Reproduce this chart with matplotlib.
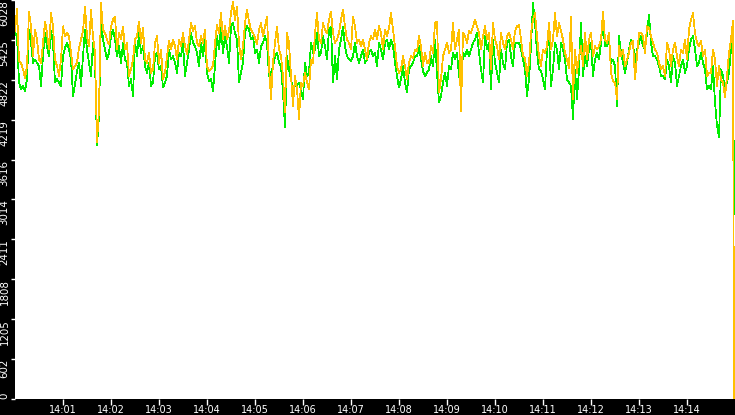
import matplotlib
matplotlib.use("Agg")
import matplotlib.pyplot as plt
import numpy as np

# sample step (seconds) from 14:00:00
step_s = 2.5

orange_1 = [5555,5890,5105,5080,4980,4855,5030,5855,5630,5180,5580,5430,5130,5080,5380,5705,5530,5280,5830,5630,
            5130,5030,4880,5130,5630,5480,5530,5480,5230,4980,5030,5080,5305,5430,5555,5930,5480,5330,5880,5480,
            5230,3880,4380,5980,5580,5530,5430,5355,5630,5730,5780,5280,5530,5430,5630,5280,5380,4880,4980,5130]
green_1 = [5530,5480,4780,4680,4730,4655,4830,5580,5380,5080,5130,5080,5030,4730,5180,5530,5330,5180,5555,5380,
           4780,4830,4780,4730,5180,5305,5380,5280,5130,4580,4755,4955,5080,4730,5180,5580,5280,5080,4880,5380,
           5105,3830,4280,5730,5430,5280,5130,5230,5480,5580,5430,5180,5330,5080,5380,5130,5080,4730,4830,4580]

orange_2 = [5430,5480,5705,5380,5605,5130,5080,5230,4930,4980,5380,5480,5080,5280,4830,4930,5180,5405,5280,5430,
            5330,5130,5430,5330,5530,5330,5205,5430,5680,5555,5630,5380,5330,5480,5380,5580,5030,4955,4980,5030,
            5380,5655,5530,5830,5430,5630,5430,5555,5830,6005,5730,5930,5380,5130,5330,5680,5880,5705,5580,5530]
green_2 = [5380,5180,5530,5230,5330,5030,4930,5080,4730,4780,5180,5230,4980,5030,4705,4780,4880,5280,5130,5180,
           5080,4930,5230,5180,5380,4880,5080,5280,5530,5380,5330,5230,5030,5380,5180,5430,4930,4805,4830,4655,
           5030,5480,5280,5630,5230,5480,5330,5080,5630,5680,5530,5430,4780,4930,5080,5530,5630,5580,5430,5480]

orange_3 = [5455,5355,5580,5680,5480,5630,5780,5030,4530,5080,5380,5630,5280,5180,4880,4330,5530,5380,4880,4430,
            4880,4680,4230,4780,4730,4930,4780,4680,5130,5080,5530,5830,5430,5380,5680,5580,5530,5730,5855,5530,
            5380,5430,5530,5730,5880,5630,5430,5380,5280,5780,5630,5380,5430,5330,5430,5280,5130,5380,5480,5430]
green_3 = [5230,5280,5080,5330,5380,5480,5380,4880,4930,5030,5180,5230,5080,5030,4630,4105,5180,4980,4830,4680,
           4730,4730,4780,4680,4530,5080,4880,4930,5380,5230,5280,5530,5180,5230,5480,5330,5130,5580,5630,4780,
           5180,4830,5280,5430,5630,5330,5180,5130,5105,5180,5380,5180,5080,5180,5280,5080,5130,5230,5280,5180]

orange_4 = [5580,5430,5630,5530,5280,5580,5480,5605,5830,5580,5330,5030,4930,4980,5180,5030,4830,5080,5180,5155,
            5280,5255,5480,5330,5030,5230,5080,5080,5330,5230,5680,5705,4630,4830,5180,5280,5380,5230,5280,5680,
            5280,5430,5580,4355,5530,5480,5380,5555,5530,5630,5730,5630,5530,5280,5480,5630,5430,5530,4980,5680]
green_4 = [5230,5030,5380,5280,5130,5380,5430,5280,5430,5330,5080,4880,4705,4830,5030,4780,4630,4980,5030,5080,
           5180,5180,5330,5130,4955,4880,4930,4980,5180,5030,5430,4930,4480,4580,4780,4930,4730,5030,4980,5230,
           5130,5230,4880,4730,5230,5180,5280,5180,5280,5380,5430,5530,5230,4980,4780,5480,5280,5380,4680,5430]

orange_5 = [5430,5330,5130,5530,5380,5280,5480,5530,5430,5280,5555,5630,5655,5430,5180,5155,4880,5080,5530,5730,
            5830,5480,5180,5030,5280,5230,5330,5680,5280,5430,5830,5480,5680,5555,5430,5230,5130,5005,5780,4530,
            5280,4930,5180,5330,5030,5530,5130,5430,5530,5180,5330,5280,5330,5430,5855,5430,5380,5530,4930,4805]
green_5 = [5080,4930,4780,5280,5080,4980,5380,5430,5180,5030,5380,5380,5380,5280,5130,4980,4580,4830,5330,5980,
           5680,5230,4980,4955,4830,4680,5280,5480,4730,4980,5380,5280,4980,5380,5280,5130,4830,4780,4730,4230,
           4980,4530,4980,5680,4880,5180,5030,5280,5380,4880,5130,5230,5130,5380,5730,5330,5330,5430,5080,5130]

orange_6 = [4780,4530,5330,5180,5280,5030,5130,5230,5380,5405,4830,5180,5530,5530,5480,5230,5630,5605,5480,5380,
            5280,5230,5080,4980,5030,4880,5380,5280,5030,5280,5380,5180,5030,5280,5230,5430,5130,5580,5730,5830,
            5530,5380,5330,5405,5180,5280,4880,4930,4930,5280,5130,4730,5030,4830,4780,4555,4880,5230,5430,5715]
green_6 = [5030,4430,5480,5230,5080,4930,5080,5280,5430,5380,5080,5280,5380,5480,5330,5280,5530,5805,5380,5180,
           5180,5130,5030,4880,4880,4830,5130,5030,4780,5180,5080,4730,4880,5030,5130,4930,5030,5280,5430,5480,
           5280,5030,5080,5230,5080,4980,4680,4730,4680,5030,4480,4130,3955,4980,4880,4680,4780,4930,5280,5530]

orange_end = 0
green_end = 2795

y_ticks = [0, 602.8, 1205.6, 1808.4, 2411.2, 3014, 3616.8, 4219.6, 4822.4, 5425.2, 6028]
y_labels = ["0", "602", "1205", "1808", "2411", "3014", "3616", "4219", "4822", "5425", "6028"]
x_minutes = list(range(1, 15))
x_labels = [f"14:{m:02d}" for m in x_minutes]

orange = np.array(orange_1 + orange_2 + orange_3 + orange_4 + orange_5 + orange_6 + [orange_end], float)
green = np.array(green_1 + green_2 + green_3 + green_4 + green_5 + green_6 + [green_end], float)
n = len(orange) - 1
t = np.append(np.arange(n) * step_s, 898.8)

W, H = 735, 415
fig = plt.figure(figsize=(W / 100, H / 100), dpi=100, facecolor="black")
ax = fig.add_axes([15 / W, 16 / H, 720 / W, 399 / H])
ax.set_facecolor("white")

ax.plot(t, green, color="#00ee00", lw=0.55, antialiased=False, zorder=2)
ax.plot(t, orange, color="#ffc000", lw=0.55, antialiased=False, zorder=3)

ax.set_xlim(0, 900)
ax.set_ylim(0, 6028)
for s in ax.spines.values():
    s.set_visible(False)

ax.set_yticks(y_ticks)
ax.set_yticklabels(y_labels, rotation=90, color="white", fontsize=7.4, family="DejaVu Sans")
for i, lab in enumerate(ax.get_yticklabels()):
    lab.set_va("bottom" if i == 0 else "top")
ax.set_xticks([m * 60 for m in x_minutes])
ax.set_xticklabels(x_labels, color="white", fontsize=7, family="DejaVu Sans")
ax.tick_params(axis="y", colors="white", length=3, width=1, pad=1, direction="out")
ax.tick_params(axis="x", colors="white", length=4, width=1, pad=0.5, direction="out")

fig.savefig("out.png", dpi=100, facecolor="black")
